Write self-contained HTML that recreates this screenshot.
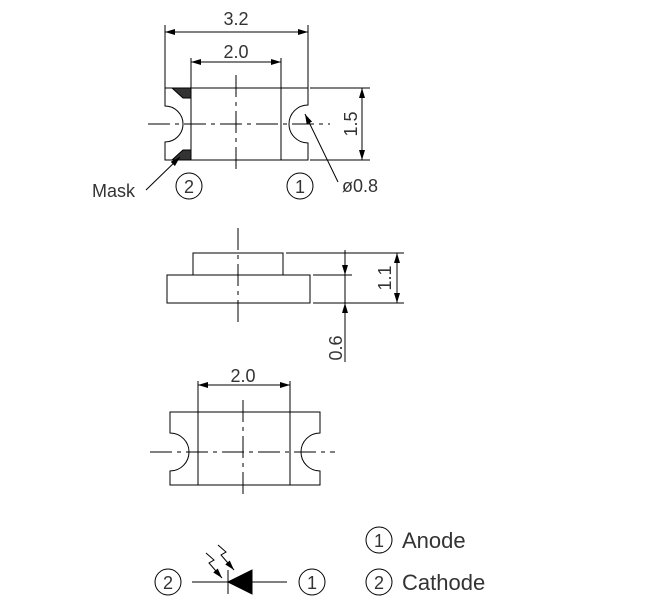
<!DOCTYPE html>
<html><head><style>body{margin:0;background:#fff}svg{display:block}text{font-family:"Liberation Sans",sans-serif;fill:#333}</style></head><body>
<svg width="665" height="612" viewBox="0 0 665 612" xmlns="http://www.w3.org/2000/svg">
<defs>
<marker id="a" viewBox="0 0 10 6" refX="10" refY="3" markerWidth="10" markerHeight="6" orient="auto-start-reverse" markerUnits="userSpaceOnUse"><path d="M0,0L10,3L0,6z" fill="#000"/></marker>
</defs>
<g stroke="#000" stroke-width="1" fill="none">
<path d="M165,88H308V105A19,19 0 0 0 308,143V160H165V142A18,18 0 0 0 165,106Z"/>
<line x1="191" y1="58" x2="191" y2="160"/><line x1="281" y1="58" x2="281" y2="160"/>
<line x1="165" y1="25" x2="165" y2="88"/><line x1="308" y1="25" x2="308" y2="88"/>
<line x1="165" y1="32" x2="308" y2="32" marker-start="url(#a)" marker-end="url(#a)"/>
<line x1="191" y1="62" x2="281" y2="62" marker-start="url(#a)" marker-end="url(#a)"/>
<line x1="310" y1="88" x2="370" y2="88"/><line x1="310" y1="160" x2="370" y2="160"/>
<line x1="362" y1="88" x2="362" y2="160" marker-start="url(#a)" marker-end="url(#a)"/>
<line x1="148" y1="124" x2="330" y2="124" stroke-dasharray="22,5,4,5"/>
<line x1="236" y1="75" x2="236" y2="173" stroke-dasharray="22,5,4,5"/>
<path d="M172,88H191V98H183Z" fill="#333"/><path d="M172,160H191V150H183Z" fill="#333"/>
<line x1="146" y1="190" x2="180" y2="157" marker-end="url(#a)"/>
<line x1="338" y1="182" x2="305" y2="114" marker-end="url(#a)"/>
<circle cx="189" cy="186" r="13"/><circle cx="300" cy="186" r="13"/>
<rect x="193" y="253" width="90" height="22"/><rect x="167" y="275" width="143" height="28"/>
<line x1="238" y1="228" x2="238" y2="325" stroke-dasharray="22,5,4,5"/>
<line x1="286" y1="253" x2="404" y2="253"/><line x1="313" y1="275" x2="352" y2="275"/><line x1="313" y1="303" x2="404" y2="303"/>
<line x1="345" y1="250" x2="345" y2="275" marker-end="url(#a)"/>
<line x1="345" y1="362" x2="345" y2="303" marker-end="url(#a)"/>
<line x1="345" y1="275" x2="345" y2="303"/>
<line x1="397" y1="253" x2="397" y2="303" marker-start="url(#a)" marker-end="url(#a)"/>
<path d="M170,412H320V433A19,19 0 0 0 320,471V485H170V471A19,19 0 0 0 170,433Z"/>
<line x1="198" y1="381" x2="198" y2="485"/><line x1="290" y1="381" x2="290" y2="485"/>
<line x1="198" y1="385" x2="290" y2="385" marker-start="url(#a)" marker-end="url(#a)"/>
<line x1="150" y1="452" x2="335" y2="452" stroke-dasharray="22,5,4,5"/>
<line x1="243" y1="400" x2="243" y2="495" stroke-dasharray="22,5,4,5"/>
<circle cx="168" cy="582" r="13"/><circle cx="312" cy="582" r="13"/>
<circle cx="379" cy="540" r="13"/><circle cx="379" cy="582" r="13"/>
<line x1="192" y1="582" x2="287" y2="582"/>
<line x1="228" y1="570" x2="228" y2="594"/>
<path d="M228,582L252,570V594Z" fill="#000"/>
<path d="M206,553L214,560L209,563L222,578" marker-end="url(#a)"/>
<path d="M218,545L226,552L221,555L234,570" marker-end="url(#a)"/>
</g>
<g font-size="18">
<text x="236" y="25" text-anchor="middle">3.2</text>
<text x="236" y="58" text-anchor="middle">2.0</text>
<text x="243" y="382" text-anchor="middle">2.0</text>
<text x="92" y="197">Mask</text>
<text x="342" y="192">ø0.8</text>
<text transform="translate(357,124) rotate(-90)" text-anchor="middle">1.5</text>
<text transform="translate(391,278) rotate(-90)" text-anchor="middle">1.1</text>
<text transform="translate(342,348) rotate(-90)" text-anchor="middle">0.6</text>
<text x="189" y="193" text-anchor="middle">2</text><text x="300" y="193" text-anchor="middle">1</text>
<text x="168" y="589" text-anchor="middle">2</text><text x="312" y="589" text-anchor="middle">1</text>
<text x="379" y="547" text-anchor="middle">1</text><text x="379" y="589" text-anchor="middle">2</text>
</g>
<g font-size="22"><text x="402" y="548">Anode</text><text x="402" y="590">Cathode</text></g>
</svg>
</body></html>
